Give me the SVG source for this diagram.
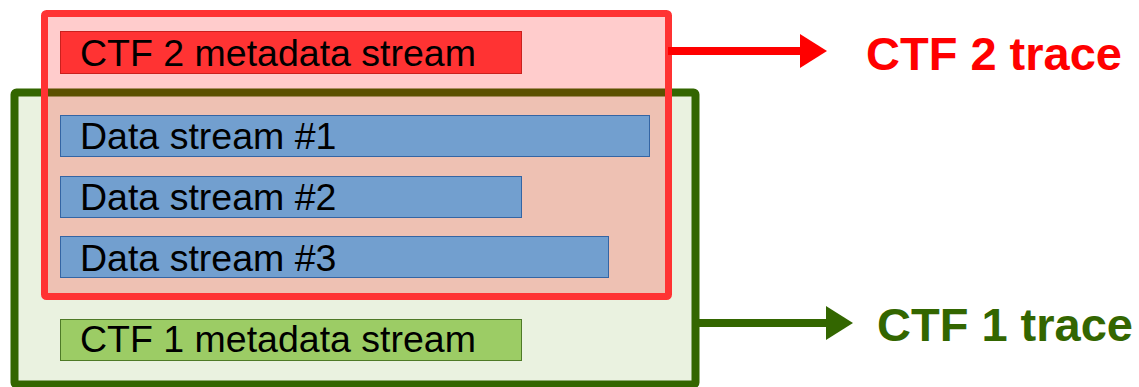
<svg xmlns="http://www.w3.org/2000/svg" width="1139" height="387" viewBox="0 0 1139 387">
  <style>
    .lbl { font-family: "Liberation Sans", Arial, sans-serif; font-size: 37.5px; fill: #000000; }
    .title { font-family: "Liberation Sans", Arial, sans-serif; font-size: 47px; font-weight: bold; }
    .data { fill: #729fcf; stroke: #3465a4; stroke-width: 1; }
  </style>
  <defs>
    <marker id="headRed" markerUnits="userSpaceOnUse" markerWidth="28" markerHeight="34" refX="0" refY="17" orient="auto">
      <path d="M0,0 L27,17 L0,34 Z" fill="#ff0000"/>
    </marker>
    <marker id="headGreen" markerUnits="userSpaceOnUse" markerWidth="28" markerHeight="34" refX="0" refY="17" orient="auto">
      <path d="M0,0 L27,17 L0,34 Z" fill="#336600"/>
    </marker>
  </defs>

  <!-- CTF 1 trace container -->
  <g id="ctf1-trace">
    <rect x="14.5" y="92.5" width="681" height="292" rx="2" fill="#eaf2e0" stroke="#336600" stroke-width="8"/>
  </g>

  <!-- CTF 2 trace container (translucent, overlaps CTF 1) -->
  <g id="ctf2-trace">
    <rect x="44.5" y="13.5" width="624" height="283" rx="2" fill="rgba(255,0,0,0.2)" stroke="#ff3333" stroke-width="7"/>
  </g>

  <g id="ctf2-metadata">
    <rect x="60.5" y="31.5" width="461" height="42" fill="#ff3333" stroke="#c9211e" stroke-width="1"/>
    <text class="lbl" x="80" y="65.5">CTF 2 metadata stream</text>
  </g>

  <g id="data-stream-1">
    <rect class="data" x="60.5" y="115.5" width="589" height="41"/>
    <text class="lbl" x="80" y="149">Data stream #1</text>
  </g>

  <g id="data-stream-2">
    <rect class="data" x="60.5" y="176.5" width="461" height="41"/>
    <text class="lbl" x="80" y="210">Data stream #2</text>
  </g>

  <g id="data-stream-3">
    <rect class="data" x="60.5" y="236.5" width="548" height="41"/>
    <text class="lbl" x="80" y="270.5">Data stream #3</text>
  </g>

  <g id="ctf1-metadata">
    <rect x="60.5" y="319.5" width="461" height="41" fill="#9ccc65" stroke="#4e7a27" stroke-width="1"/>
    <text class="lbl" x="80" y="352">CTF 1 metadata stream</text>
  </g>

  <!-- connectors to trace labels -->
  <g id="connectors">
    <line x1="668" y1="51" x2="800" y2="51" stroke="#ff0000" stroke-width="8" marker-end="url(#headRed)"/>
    <line x1="699" y1="323" x2="826" y2="323" stroke="#336600" stroke-width="8" marker-end="url(#headGreen)"/>
  </g>

  <g id="label-ctf2">
    <text class="title" x="866" y="70" fill="#ff0000">CTF 2 trace</text>
  </g>
  <g id="label-ctf1">
    <text class="title" x="877" y="341" fill="#336600">CTF 1 trace</text>
  </g>
</svg>
